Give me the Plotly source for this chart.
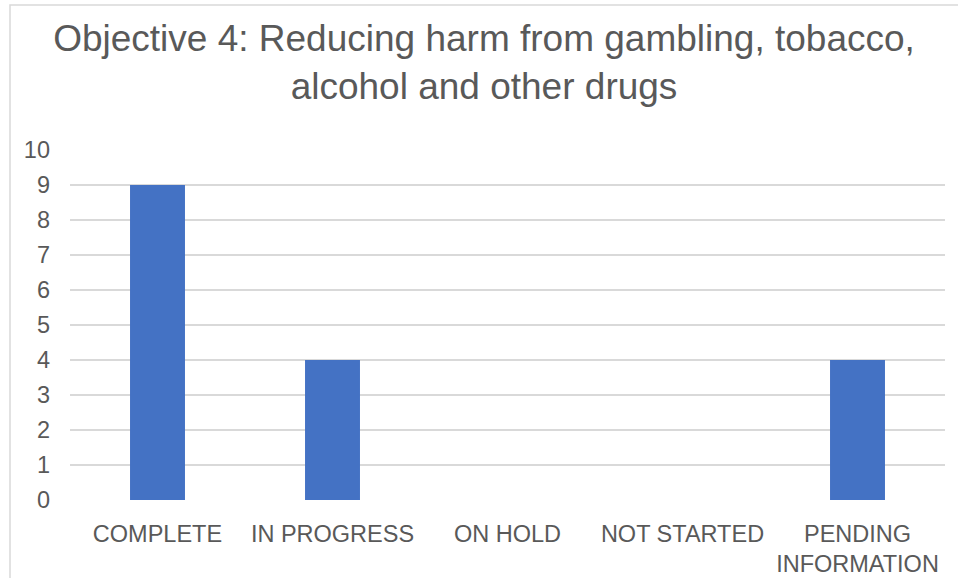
import plotly.graph_objects as go

categories = ["COMPLETE", "IN PROGRESS", "ON HOLD", "NOT STARTED", "PENDING<br>INFORMATION"]
values = [9, 4, 0, 0, 4]
y_ticks = list(range(0, 11))

title_text = "Objective 4: Reducing harm from gambling, tobacco,<br>alcohol and other drugs"

fig = go.Figure()
fig.add_trace(go.Bar(x=categories, y=values, marker=dict(color="#4472C4", line=dict(width=0)),
                     width=0.314))

W, H = 958, 578
L, R, T, B = 70, 13, 150, 78
pw, ph = W - L - R, H - T - B

def px_to_paper_x(px):
    return (px - L) / pw

def px_to_paper_y(py):
    return (H - B - py) / ph

fig.update_layout(
    width=W, height=H,
    margin=dict(l=L, r=R, t=T, b=B),
    paper_bgcolor="white", plot_bgcolor="white",
    font=dict(family="Liberation Sans, Arial, sans-serif", color="#595959"),
    title=dict(text=title_text, x=484 / W, xanchor="center", xref="container",
               y=1 - 51 / H, yanchor="middle",
               font=dict(size=37, color="#595959")),
    showlegend=False,
    bargap=0.686,
    xaxis=dict(showgrid=False, showline=False, zeroline=False, ticks="", automargin=False,
               tickfont=dict(size=23.5, color="#595959"), ticklabelstandoff=17),
    yaxis=dict(range=[0, 10], tickvals=y_ticks, showgrid=True, gridcolor="#d9d9d9", gridwidth=1.5,
               zeroline=False, showline=False, ticks="", automargin=False,
               tickfont=dict(size=23.5, color="#595959"), ticklabelstandoff=19),
    shapes=[dict(type="rect", xref="paper", yref="paper",
                 x0=px_to_paper_x(10), x1=px_to_paper_x(975),
                 y0=px_to_paper_y(595), y1=px_to_paper_y(5),
                 line=dict(color="#d9d9d9", width=1.5), fillcolor="rgba(0,0,0,0)", layer="below")],
)
fig.write_html("out.html", config={"displayModeBar": False},
               post_script="document.body.style.margin='0px';")
